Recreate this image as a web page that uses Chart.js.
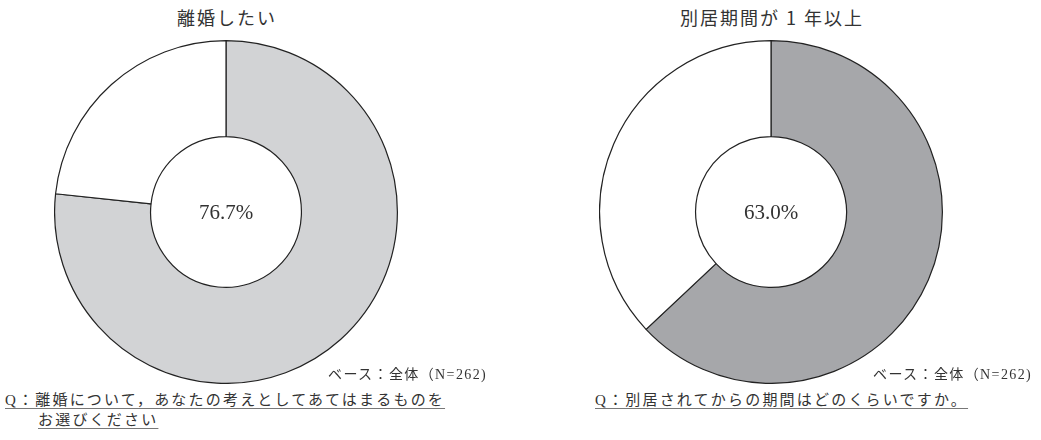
<!DOCTYPE html>
<html lang="ja">
<head>
  <meta charset="UTF-8" />
  <title>離婚・別居</title>
  <script src="https://cdn.jsdelivr.net/npm/chart.js"></script>
  <style>
    body {
      margin: 0;
      width: 1041px;
      height: 440px;
      background: #fff;
      position: relative;
      font-family: "Liberation Serif", "Noto Sans CJK JP", serif;
      color: #333;
      overflow: hidden;
    }
    .title {
      position: absolute;
      top: 4px;
      width: 300px;
      text-align: center;
      font-size: 18px;
      letter-spacing: 2px;
      font-family: "Noto Sans CJK JP", serif;
    }
    .box {
      position: absolute;
      top: 40px;
      width: 344px;
      height: 344px;
    }
    .base {
      position: absolute;
      top: 363px;
      font-size: 14px;
      letter-spacing: 1.4px;
      white-space: nowrap;
    }
    .q {
      position: absolute;
      font-size: 15px;
      line-height: 20px;
      letter-spacing: 2.2px;
      text-decoration: underline;
      text-decoration-color: #777;
      text-underline-offset: 3px;
      white-space: nowrap;
    }
  </style>
</head>
<body>

<div class="title" style="left:77px">離婚したい</div>
<div class="title" style="left:622px">別居期間が 1 年以上</div>

<div class="box" style="left:54px"><canvas id="leftChart"></canvas></div>
<div class="box" style="left:599px"><canvas id="rightChart"></canvas></div>

<div class="base" style="left:328px">ベース：全体（N=262)</div>
<div class="base" style="left:873px">ベース：全体（N=262)</div>

<div class="q" style="left:5px; top:390px">Q：離婚について，あなたの考えとしてあてはまるものを</div>
<div class="q" style="left:38px; top:410px">お選びください</div>
<div class="q" style="left:595px; top:390px">Q：別居されてからの期間はどのくらいですか。</div>

<script>
  const labels = ['該当', 'その他'];
  const leftValues = [76.7, 23.3];
  const rightValues = [63.0, 37.0];
  const leftColors = ['#d2d3d5', '#ffffff'];
  const rightColors = ['#a6a7aa', '#ffffff'];

  // center percentage text
  const centerText = {
    id: 'centerText',
    afterDraw(chart) {
      const meta = chart.getDatasetMeta(0);
      const arc = meta.data[0];
      const ctx = chart.ctx;
      ctx.save();
      ctx.font = '21px "Liberation Serif", serif';
      ctx.fillStyle = '#333';
      ctx.textAlign = 'center';
      ctx.textBaseline = 'middle';
      ctx.fillText(chart.data.datasets[0].data[0].toFixed(1) + '%', arc.x, arc.y + 1);
      ctx.restore();
    }
  };

  function makeChart(id, values, colors) {
    const ctx = document.getElementById(id).getContext('2d');
    return new Chart(ctx, {
      type: 'doughnut',
      data: {
        labels: labels,
        datasets: [{
          data: values,
          backgroundColor: colors,
          borderColor: '#222',
          borderWidth: 1.2
        }]
      },
      options: {
        responsive: true,
        maintainAspectRatio: false,
        animation: false,
        cutout: '44%',
        plugins: {
          legend: { display: false },
          tooltip: { enabled: false }
        }
      },
      plugins: [centerText]
    });
  }

  makeChart('leftChart', leftValues, leftColors);
  makeChart('rightChart', rightValues, rightColors);
</script>

</body>
</html>
